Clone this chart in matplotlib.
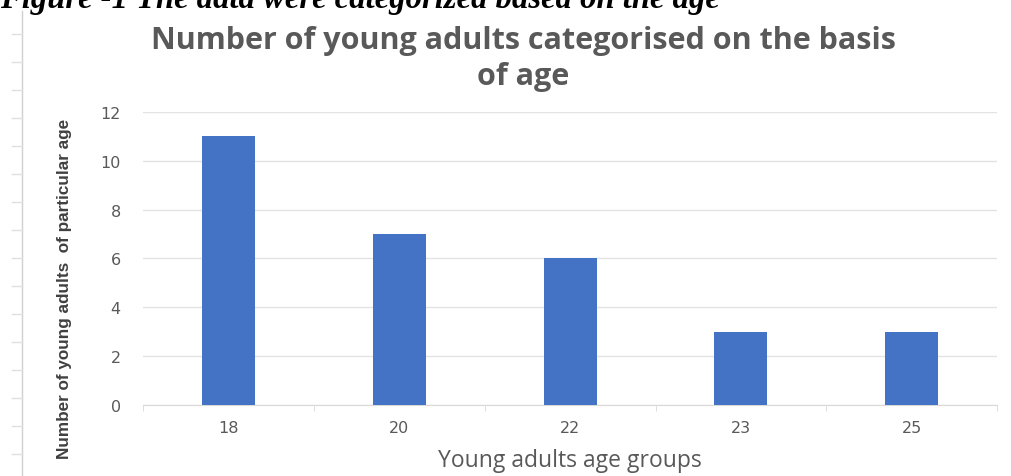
import matplotlib.pyplot as plt
from matplotlib.lines import Line2D

# Age groups and counts
age_groups = ["18", "20", "22", "23", "25"]
counts = [11, 7, 6, 3, 3]

grey = "#595959"
bar_blue = "#4472C4"

fig = plt.figure(figsize=(10.11, 4.77), dpi=100)
ax = fig.add_axes([0.1414, 0.149, 0.845, 0.614])

x = range(len(age_groups))
ax.bar(x, counts, width=0.31, color=bar_blue, zorder=3)

ax.set_xlim(-0.5, len(age_groups) - 0.5)
ax.set_ylim(0, 12)
ax.set_yticks(range(0, 13, 2))
ax.set_xticks(list(x))
ax.set_xticklabels(age_groups)

# Excel style: light horizontal grid, no frame
ax.grid(axis="y", color="#e3e3e3", linewidth=1.0, zorder=0)
for side in ["top", "right", "left"]:
    ax.spines[side].set_visible(False)
ax.spines["bottom"].set_color("#d9d9d9")
ax.tick_params(axis="y", length=0, pad=16, labelsize=11.5, labelcolor=grey)
ax.tick_params(axis="x", length=0, pad=11, labelsize=11.5, labelcolor=grey)
ax.set_xticks([i + 0.5 for i in range(-1, len(age_groups))], minor=True)
ax.tick_params(axis="x", which="minor", length=4, color="#d9d9d9")

ax.set_xlabel("Young adults age groups", fontsize=16.5, color=grey,
              family="Open Sans", labelpad=9)
ax.set_ylabel("Number of young adults  of particular age", fontsize=12.3,
              color="#404040", family="Liberation Sans", fontweight="bold")
ax.yaxis.set_label_coords(-0.083, 0.40)

fig.text(523 / 1011, 1 - 59 / 477,
         "Number of young adults categorised on the basis\nof age",
         ha="center", va="center", fontsize=22, fontweight="bold",
         color=grey, family="Open Sans", linespacing=1.3)

# caption above the chart, top half clipped by the page
fig.text(0.0, 1 - 8 / 477, "Figure -1 The data were categorized based on the age",
         ha="left", va="baseline", fontsize=23.5, fontweight="bold",
         fontstyle="italic", family="Liberation Serif", color="black")

# page ruler along the left edge
fig.add_artist(Line2D([22 / 1011, 22 / 1011], [0, 1 - 12 / 477],
                      color="#d0d0d0", linewidth=1))
for yp in range(35, 477, 28):
    fig.add_artist(Line2D([12 / 1011, 22 / 1011], [1 - yp / 477, 1 - yp / 477],
                          color="#e0e0e0", linewidth=1))

fig.savefig("out.png", dpi=100)
